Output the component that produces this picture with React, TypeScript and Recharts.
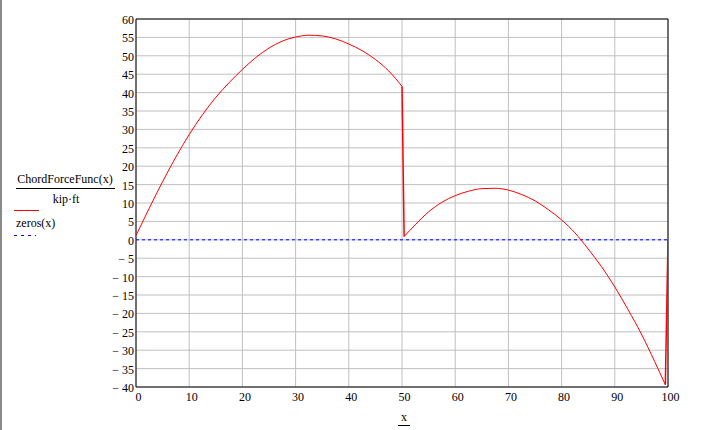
import React from 'react';
import { LineChart, Line, XAxis, YAxis, CartesianGrid, ReferenceArea } from 'recharts';

const leftX = [0, 2.5, 5, 7.5, 10, 12.5, 15, 17.5, 20, 22.5, 25, 27.5, 30, 32.5, 35, 37.5, 40, 42.5, 45, 47.5, 50];
const leftForce = [1.2, 8.6, 15.8, 22.5, 28.6, 34.0, 38.7, 42.7, 46.3, 49.5, 52.1, 54.0, 55.1, 55.6, 55.4, 54.6, 53.2, 51.4, 49.0, 45.9, 41.7];
const rightX = [50.4, 52.5, 55, 57.5, 60, 62.5, 65, 67.5, 70, 72.5, 75, 77.5, 80, 82.5, 85, 87.5, 90, 92.5, 95, 97.5, 99.5];
const rightForce = [0.9, 4.1, 7.6, 10.2, 12.0, 13.2, 13.9, 14.0, 13.5, 12.3, 10.6, 8.2, 5.4, 1.9, -2.5, -7.3, -12.8, -19.0, -25.6, -33.1, -39.4];
const endX = 100;
const endForce = 0;
const zeroX = [0, 100];
const zeroValues = [0, 0];
const xTicks = [0, 10, 20, 30, 40, 50, 60, 70, 80, 90, 100];
const yTicks = [-40, -35, -30, -25, -20, -15, -10, -5, 0, 5, 10, 15, 20, 25, 30, 35, 40, 45, 50, 55, 60];

const leftData = leftX.map((x, i) => ({ x, y: leftForce[i] }));
const rightData = rightX.map((x, i) => ({ x, y: rightForce[i] }));
const dropData = [leftData[leftData.length - 1], rightData[0]];
const riseData = [rightData[rightData.length - 1], { x: endX, y: endForce }];
const zeroData = zeroX.map((x, i) => ({ x, y: zeroValues[i] }));

const FONT = '"Liberation Serif", "Times New Roman", serif';

const XTick = (props: any) => {
  const { x, payload } = props;
  return (
    <text x={x + 2.5} y={401} textAnchor="middle" fontSize={12} fill="#000" fontFamily={FONT}>
      {payload.value}
    </text>
  );
};

const YTick = (props: any) => {
  const { y, payload } = props;
  const v = payload.value;
  const label = v < 0 ? `\u2212 ${-v}` : `${v}`;
  return (
    <text x={134} y={y + 5} textAnchor="end" fontSize={12} fill="#000" fontFamily={FONT}>
      {label}
    </text>
  );
};

export default function App() {
  const common = { dataKey: 'y', stroke: '#ff0000', strokeWidth: 1, dot: false, activeDot: false, isAnimationActive: false };
  return (
    <div style={{ position: 'fixed', left: 0, top: 0, width: 726, height: 430, background: '#fff', fontFamily: FONT }}>
      <div style={{ position: 'absolute', left: 0, top: 0, width: 2, height: 430, background: '#8a8a8a' }} />
      <div style={{ position: 'absolute', left: 0, top: 0 }}>
        <LineChart width={726} height={430} margin={{ top: 19, right: 58, bottom: 13, left: 0 }}>
          <CartesianGrid stroke="#c0c0c0" strokeWidth={1} />
          <XAxis type="number" dataKey="x" domain={[0, 100]} ticks={xTicks} tick={XTick} tickLine={false}
            axisLine={false} height={30} interval={0} allowDataOverflow />
          <YAxis type="number" dataKey="y" domain={[-40, 60]} ticks={yTicks} width={136} tick={YTick} tickLine={false}
            axisLine={false} interval={0} allowDataOverflow />
          <Line data={zeroData} dataKey="y" type="linear" stroke="#0000ff" strokeWidth={1} strokeDasharray="3 3"
            dot={false} activeDot={false} isAnimationActive={false} />
          <Line {...common} data={leftData} type="monotoneX" />
          <Line {...common} data={dropData} type="linear" strokeWidth={1.5} />
          <Line {...common} data={rightData} type="monotoneX" />
          <Line {...common} data={riseData} type="linear" strokeWidth={1.5} />
          <ReferenceArea x1={0} x2={100} y1={-40} y2={60} fill="none" fillOpacity={0} stroke="#000" strokeWidth={1}
            ifOverflow="visible" />
        </LineChart>
      </div>
      <svg width={726} height={430} style={{ position: 'absolute', left: 0, top: 0, pointerEvents: 'none' }}>
        <text x={65} y={183} textAnchor="middle" fontSize={12} fontFamily={FONT} fill="#000">ChordForceFunc(x)</text>
        <line x1={16} x2={115} y1={188.5} y2={188.5} stroke="#000" strokeWidth={1} />
        <text x={66} y={203} textAnchor="middle" fontSize={12} fontFamily={FONT} fill="#000">kip·ft</text>
        <line x1={14} x2={39} y1={210.5} y2={210.5} stroke="#ff0000" strokeWidth={1} />
        <text x={16} y={227} textAnchor="start" fontSize={12} fontFamily={FONT} fill="#000">zeros(x)</text>
        <line x1={14} x2={36} y1={235.5} y2={235.5} stroke="#0000ff" strokeWidth={1} strokeDasharray="3 4" />
        <text x={404} y={421} textAnchor="middle" fontSize={12} fontFamily={FONT} fill="#000">x</text>
        <line x1={398} x2={410} y1={425.5} y2={425.5} stroke="#000" strokeWidth={1} />
      </svg>
    </div>
  );
}
